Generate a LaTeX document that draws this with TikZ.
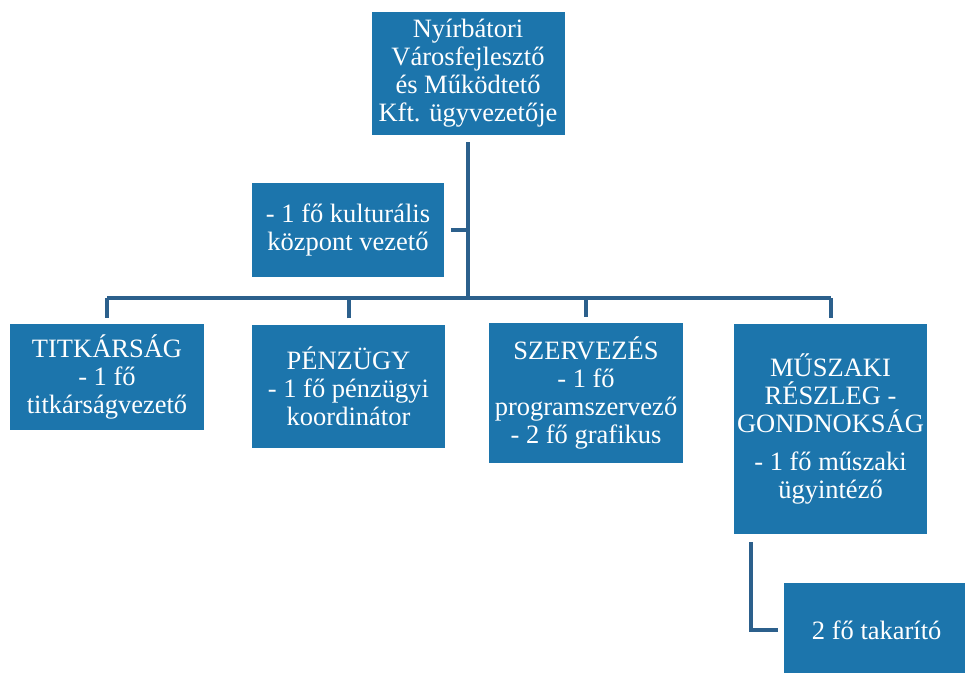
\documentclass[tikz,border=0pt]{standalone}
\usepackage{fontspec}
\setmainfont{Liberation Serif}
\newfontfamily\unitfont{Liberation Serif}
\usetikzlibrary{positioning}
\definecolor{unitblue}{RGB}{28,117,172}
\definecolor{lineblue}{RGB}{44,96,140}

\begin{document}
\begin{tikzpicture}[x=1pt,y=-1pt]
        % Define styles for shapes
        \tikzstyle{unit} = [fill=unitblue, text=white, align=center, inner sep=0pt,
            font=\unitfont\fontsize{26.5}{28}\selectfont]
        \tikzstyle{conn} = [draw=lineblue, line width=4pt]
        \useasboundingbox (0,0) rectangle (965,672);
        % Draw shapes
        \node[unit, minimum width=193pt, minimum height=123pt] (chief) at (468, 73.5) {
            Nyírbátori\\Városfejlesztő\\és Működtető\\Kft. ügyvezetője
        };
        \node[unit, minimum width=192pt, minimum height=94pt] (culture) at (348, 230) {
            - 1 fő kulturális\\központ vezető
        };
        \node[unit, minimum width=194pt, minimum height=106pt] (office) at (107, 377) {
            TITKÁRSÁG\\- 1 fő\\titkárságvezető
        };
        \node[unit, minimum width=193pt, minimum height=123pt] (finance) at (348.5, 386) {
            PÉNZÜGY\\- 1 fő pénzügyi\\koordinátor
        };
        \node[unit, minimum width=194pt, minimum height=140pt] (events) at (586, 393) {
            SZERVEZÉS\\- 1 fő\\programszervező\\- 2 fő grafikus
        };
        \node[unit, minimum width=193pt, minimum height=210pt] (technical) at (830.5, 429) {
            MŰSZAKI\\RÉSZLEG -\\GONDNOKSÁG\\[10pt]- 1 fő műszaki\\ügyintéző
        };
        % takarito box, partly off the page
        \node[unit, minimum width=192pt, minimum height=94pt] (cleaning) at (880, 630) {
            2 fő takarító
        };
        \coordinate (bus) at (468, 298);

        % Draw connectors
        \draw[conn, shorten <=7pt] (chief.south) -- (bus);
        \draw[conn, shorten <=7pt] (culture.east) -- (culture.east -| chief.south);
        \draw[conn] (office.north |- bus) -- (technical.north |- bus);
        \foreach \n in {office, finance, events, technical}
            \draw[conn, shorten <=6pt] (\n.north) -- (\n.north |- bus);
        \draw[conn, shorten >=6pt] ([xshift=17pt, yshift=-8pt]technical.south west) |- (cleaning.west);
    \end{tikzpicture}
\end{document}
